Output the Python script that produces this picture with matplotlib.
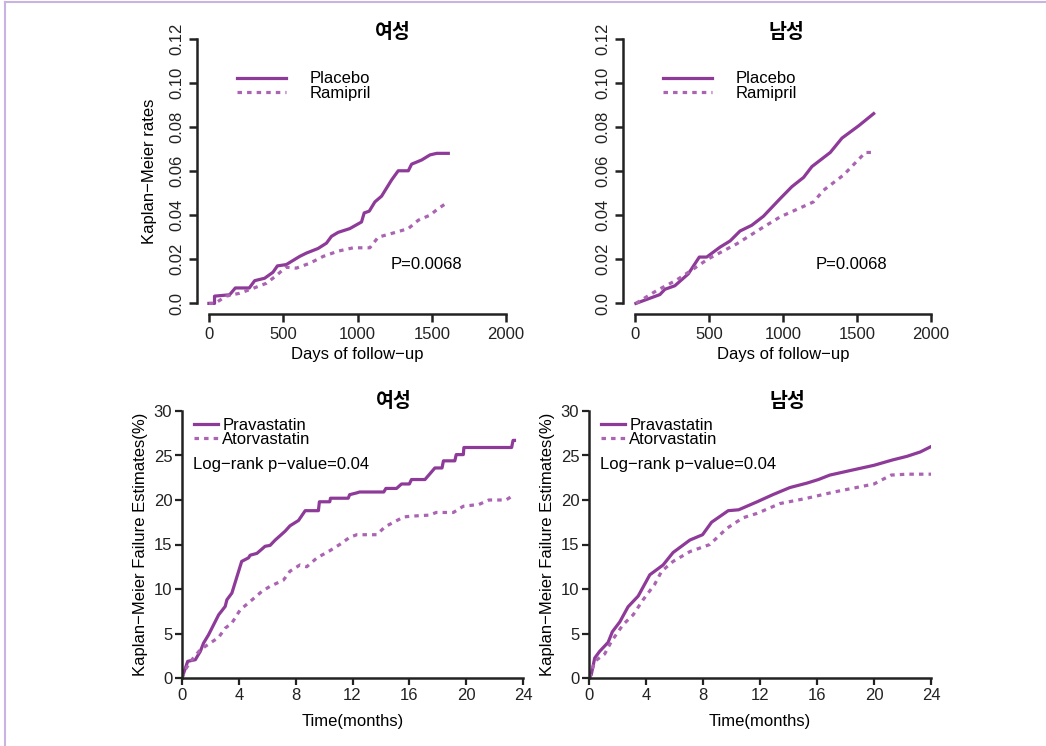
import matplotlib
matplotlib.use('Agg')
import matplotlib.pyplot as plt
from matplotlib.lines import Line2D

plt.rcParams['font.family'] = ['Liberation Sans Narrow', 'Liberation Sans', 'DejaVu Sans']
plt.rcParams['axes.unicode_minus'] = True

SOLID = '#8e3a98'
DOTTED = '#aa64b2'
KFONT = ['Noto Sans CJK KR', 'DejaVu Sans']

# top row: days vs KM rate
f_placebo_day = [0, 38, 38, 139, 178, 272, 308, 375, 431, 461, 521, 611, 656, 735, 791, 825, 870, 948,
                 1027, 1045, 1079, 1117, 1162, 1229, 1274, 1342, 1364, 1432, 1488, 1533, 1611]
f_placebo_km = [0, 0, 0.0033, 0.0039, 0.007, 0.007, 0.0103, 0.0114, 0.0141, 0.017, 0.0176, 0.0213, 0.0228,
                0.0249, 0.0273, 0.0304, 0.0322, 0.0339, 0.0369, 0.041, 0.0418, 0.046, 0.0486, 0.0559,
                0.0601, 0.0601, 0.0631, 0.065, 0.0673, 0.068, 0.068]
f_ramipril_day = [0, 40, 117, 207, 285, 386, 454, 517, 589, 679, 769, 870, 971, 1083, 1139, 1240, 1342,
                  1409, 1488, 1544, 1589]
f_ramipril_km = [0, 0, 0.0033, 0.0046, 0.0065, 0.0091, 0.0126, 0.0164, 0.016, 0.0182, 0.0213, 0.0237,
                 0.0252, 0.0252, 0.030, 0.0319, 0.0339, 0.0377, 0.040, 0.043, 0.045]

m_placebo_day = [7, 169, 203, 270, 361, 435, 485, 575, 643, 710, 789, 868, 981, 1060, 1139, 1195, 1319,
                 1398, 1511, 1612]
m_placebo_km = [0, 0.004, 0.0064, 0.008, 0.0134, 0.021, 0.021, 0.0255, 0.0283, 0.0328, 0.0354, 0.0395,
                0.0475, 0.0529, 0.0571, 0.062, 0.0684, 0.0749, 0.0805, 0.086]
m_ramipril_day = [7, 147, 282, 395, 496, 688, 868, 981, 1206, 1274, 1409, 1556, 1612]
m_ramipril_km = [0, 0.0058, 0.0106, 0.0156, 0.0202, 0.027, 0.0346, 0.0392, 0.046, 0.0513, 0.0582,
                 0.0684, 0.0684]

# bottom row: months vs KM failure (%)
f_prava_mo = [0, 0.4, 0.94, 1.29, 1.52, 1.87, 2.58, 3.04, 3.16, 3.51, 4.2, 4.68, 4.8, 5.27, 5.85, 6.2,
              6.56, 7.26, 7.6, 8.2, 8.67, 9.6, 9.67, 10.4, 10.45, 11.7, 11.8, 12.3, 12.5, 14.2, 14.35,
              15.1, 15.45, 16.0, 16.15, 17.1, 17.8, 18.3, 18.4, 19.2, 19.3, 19.8, 19.84, 23.2, 23.3, 23.4]
f_prava_pct = [0, 1.87, 2.06, 3.0, 3.93, 4.86, 7.1, 8.04, 8.79, 9.54, 13.1, 13.5, 13.8, 14.0, 14.8, 14.9,
               15.5, 16.5, 17.1, 17.7, 18.8, 18.8, 19.8, 19.8, 20.2, 20.2, 20.6, 20.8, 20.9, 20.9, 21.3,
               21.3, 21.8, 21.8, 22.3, 22.3, 23.6, 23.6, 24.4, 24.4, 25.1, 25.1, 25.9, 25.9, 26.7, 26.7]
f_atorva_mo = [0, 0.23, 0.7, 1.29, 1.99, 2.58, 3.04, 3.51, 4.1, 4.8, 5.62, 6.2, 7.14, 7.6, 8.3, 8.78,
               9.5, 10.4, 11.1, 11.8, 12.3, 13.7, 14.3, 14.9, 15.6, 16.3, 17.4, 17.9, 19.1, 19.8, 20.9,
               21.6, 22.8, 23.4]
f_atorva_pct = [0, 0.94, 2.06, 3.18, 3.93, 4.56, 5.6, 6.17, 7.67, 8.6, 9.73, 10.3, 11.0, 12.0, 12.7,
                12.5, 13.5, 14.3, 15.0, 15.8, 16.1, 16.1, 17.0, 17.5, 18.1, 18.2, 18.3, 18.6, 18.6,
                19.3, 19.5, 20.0, 20.0, 20.6]

m_prava_mo = [0, 0.16, 0.4, 0.75, 1.34, 1.64, 2.16, 2.74, 3.45, 4.27, 5.2, 5.9, 7.08, 7.97, 8.6, 9.77,
              10.5, 11.8, 12.9, 14.1, 15.3, 16.1, 16.9, 18.3, 20.0, 21.3, 22.3, 23.25, 24]
m_prava_pct = [0, 0.37, 2.24, 3.0, 4.0, 5.2, 6.3, 8.0, 9.2, 11.6, 12.7, 14.1, 15.5, 16.1, 17.5, 18.8,
               18.9, 19.8, 20.6, 21.4, 21.9, 22.3, 22.8, 23.3, 23.9, 24.5, 24.9, 25.4, 26.0]
m_atorva_mo = [0.05, 0.4, 1.1, 1.57, 2.39, 3.1, 3.8, 4.6, 5.1, 5.9, 7.08, 8.48, 9.66, 10.8, 11.8, 13.4,
               15.3, 17.2, 20.0, 21.2, 22.3, 24]
m_atorva_pct = [0, 1.87, 2.7, 4.1, 6.0, 7.1, 8.8, 10.5, 12.0, 13.1, 14.2, 15.0, 16.8, 18.0, 18.5, 19.6,
                20.2, 20.9, 21.8, 22.8, 22.9, 22.9]

day_ticks = [0, 500, 1000, 1500, 2000]
rate_ticks = [0.0, 0.02, 0.04, 0.06, 0.08, 0.10, 0.12]
rate_labels = ['0.0', '0.02', '0.04', '0.06', '0.08', '0.10', '0.12']
month_ticks = [0, 4, 8, 12, 16, 20, 24]
pct_ticks = [0, 5, 10, 15, 20, 25, 30]

W, H = 1046, 746
fig = plt.figure(figsize=(W / 100, H / 100), dpi=100)


def px_axes(x0, y0, x1, y1):
    return fig.add_axes([x0 / W, 1 - y1 / H, (x1 - x0) / W, (y1 - y0) / H])


def top_panel(ax, title, tx, pl_x, pl_y, ra_x, ra_y, ylabel):
    ax.plot(pl_x, pl_y, color=SOLID, lw=2.3, label='Placebo')
    ax.plot(ra_x, ra_y, color=DOTTED, lw=2.3, ls=(0, (1.4, 1.6)), label='Ramipril')
    ax.set_xlim(-80, 2080)
    ax.set_ylim(-0.0048, 0.1248)
    for s in ['top', 'right']:
        ax.spines[s].set_visible(False)
    ax.spines['left'].set_bounds(0, 0.12)
    ax.spines['bottom'].set_bounds(0, 2000)
    for s in ['left', 'bottom']:
        ax.spines[s].set_linewidth(1.8)
        ax.spines[s].set_color('#222222')
    ax.set_xticks(day_ticks)
    ax.set_yticks(rate_ticks)
    ax.set_yticklabels(rate_labels, rotation=90, va='center')
    ax.tick_params(direction='out', length=6, width=1.8, labelsize=12, colors='#222222', pad=3)
    ax.set_xlabel('Days of follow−up', fontsize=12, labelpad=4)
    if ylabel:
        ax.set_ylabel('Kaplan−Meier rates', fontsize=12, labelpad=9)
    ax.text(tx, 0.986, title, transform=ax.transAxes, ha='center', va='center',
            fontsize=14, fontweight='bold', family=KFONT)
    ax.text(1220, 0.0177, 'P=0.0068', fontsize=12, va='center')
    ax.legend(loc='upper left', bbox_to_anchor=(0.125, 0.848), frameon=False, fontsize=12,
              handlelength=2.95, handletextpad=1.4, labelspacing=-0.05, borderpad=0,
              borderaxespad=0)


def bottom_panel(ax, title, tx, a_x, a_y, b_x, b_y):
    ax.plot(a_x, a_y, color=SOLID, lw=2.3, label='Pravastatin')
    ax.plot(b_x, b_y, color=DOTTED, lw=2.3, ls=(0, (1.4, 1.6)), label='Atorvastatin')
    ax.set_xlim(0, 24)
    ax.set_ylim(0, 30)
    for s in ['top', 'right']:
        ax.spines[s].set_visible(False)
    for s in ['left', 'bottom']:
        ax.spines[s].set_linewidth(1.8)
        ax.spines[s].set_color('#222222')
    ax.set_xticks(month_ticks)
    ax.set_yticks(pct_ticks)
    ax.tick_params(direction='out', length=5, width=1.6, labelsize=12, colors='#222222', pad=2)
    ax.set_xlabel('Time(months)', fontsize=12, labelpad=8)
    ax.set_ylabel('Kaplan−Meier Failure Estimates(%)', fontsize=12, labelpad=4)
    ax.text(tx, 1.034, title, transform=ax.transAxes, ha='center', va='center',
            fontsize=14, fontweight='bold', family=KFONT)
    ax.text(0.8, 24.0, 'Log−rank p−value=0.04', fontsize=12, va='center')
    ax.legend(loc='upper left', bbox_to_anchor=(0.035, 0.974), frameon=False, fontsize=12,
              handlelength=1.45, handletextpad=0.25, labelspacing=-0.05, borderpad=0,
              borderaxespad=0)


ax1 = px_axes(197, 28, 518, 314)
top_panel(ax1, '여성', 0.61, f_placebo_day, f_placebo_km, f_ramipril_day, f_ramipril_km, True)
ax2 = px_axes(623, 28, 943, 314)
top_panel(ax2, '남성', 0.51, m_placebo_day, m_placebo_km, m_ramipril_day, m_ramipril_km, False)

ax3 = px_axes(182, 411, 523, 678)
bottom_panel(ax3, '여성', 0.62, f_prava_mo, f_prava_pct, f_atorva_mo, f_atorva_pct)
ax4 = px_axes(589, 411, 931, 678)
bottom_panel(ax4, '남성', 0.58, m_prava_mo, m_prava_pct, m_atorva_mo, m_atorva_pct)

# thin lavender frame on top and left edges
fig.add_artist(Line2D([5 / W, 1], [1 - 2 / H, 1 - 2 / H], color='#c9b3e0', lw=1.5))
fig.add_artist(Line2D([5 / W, 5 / W], [0, 1 - 2 / H], color='#c9b3e0', lw=1.5))

fig.savefig('out.png', dpi=100)
